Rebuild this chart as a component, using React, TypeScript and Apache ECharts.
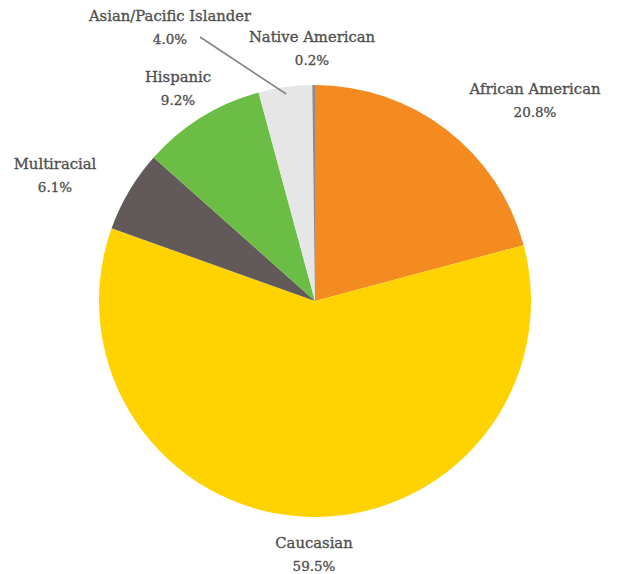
import React, { useEffect, useRef } from "react";
import * as echarts from "echarts";

const categories = [
  "African American",
  "Caucasian",
  "Multiracial",
  "Hispanic",
  "Asian/Pacific Islander",
  "Native American",
];
const values = [20.8, 59.5, 6.1, 9.2, 4.0, 0.2];
const colors = ["#F48B20", "#FFD300", "#625A59", "#6CBD45", "#E6E6E6", "#8C8C8C"];
const showLeader = [false, false, false, false, true, false];
// label centres (layout, not data)
const labelPos: [number, number][] = [
  [535, 100],
  [314, 554],
  [55, 175],
  [178, 88],
  [170, 27],
  [312, 48],
];
const CENTER: [number, number] = [315, 301];
const RADIUS = 216;

export default function App() {
  const ref = useRef<HTMLDivElement>(null);
  useEffect(() => {
    if (!ref.current) return;
    const chart = echarts.init(ref.current, undefined, { renderer: "svg" });
    const total = values.reduce((a, b) => a + b, 0);
    const textStyle = {
      fontFamily: "DejaVu Serif",
      color: "#505050",
      textBorderColor: "#505050",
      textBorderWidth: 0.35,
      lineHeight: 23,
      align: "center",
    };
    const base = {
      type: "pie",
      center: CENTER,
      radius: RADIUS,
      startAngle: 90,
      clockwise: true,
      avoidLabelOverlap: false,
    };
    chart.setOption({
      animation: false,
      backgroundColor: "#ffffff",
      series: [
        {
          ...base,
          z: 2,
          silent: true,
          itemStyle: { borderWidth: 0 },
          label: { show: false },
          labelLine: { show: false },
          data: categories.map((c, i) => ({
            name: c,
            value: values[i],
            itemStyle: { color: colors[i] },
          })),
        },
        {
          ...base,
          z: 3,
          silent: true,
          itemStyle: { color: "rgba(0,0,0,0)", borderWidth: 0 },
          label: {
            show: true,
            position: "outside",
            formatter: (p: any) => `{n|${p.name}}\n{p|${p.value.toFixed(1)}%}`,
            rich: {
              n: { ...textStyle, fontSize: 14.8 },
              p: { ...textStyle, fontSize: 13.5 },
            },
          },
          labelLine: { show: false },
          labelLayout: (params: any) => {
            const i = params.dataIndex;
            const pos = labelPos[i];
            const out: any = {
              x: pos[0],
              y: pos[1],
              align: "center",
              verticalAlign: "middle",
            };
            if (showLeader[i]) {
              let before = 0;
              for (let k = 0; k < i; k++) before += values[k];
              const mid = ((before + values[i] / 2) / total) * Math.PI * 2;
              const r = RADIUS - 7;
              const start = [CENTER[0] + r * Math.sin(mid), CENTER[1] - r * Math.cos(mid)];
              out.labelLinePoints = [start, start, [pos[0] + 30, pos[1] + 10]];
            }
            return out;
          },
          data: categories.map((c, i) => ({
            name: c,
            value: values[i],
            labelLine: showLeader[i]
              ? { show: true, length: 5, length2: 5, smooth: false, lineStyle: { color: "#858585", width: 1.6 } }
              : { show: false },
          })),
        },
      ],
    });
    return () => chart.dispose();
  }, []);
  return (
    <div
      ref={ref}
      style={{ position: "absolute", left: 0, top: 0, width: 618, height: 574 }}
    />
  );
}
